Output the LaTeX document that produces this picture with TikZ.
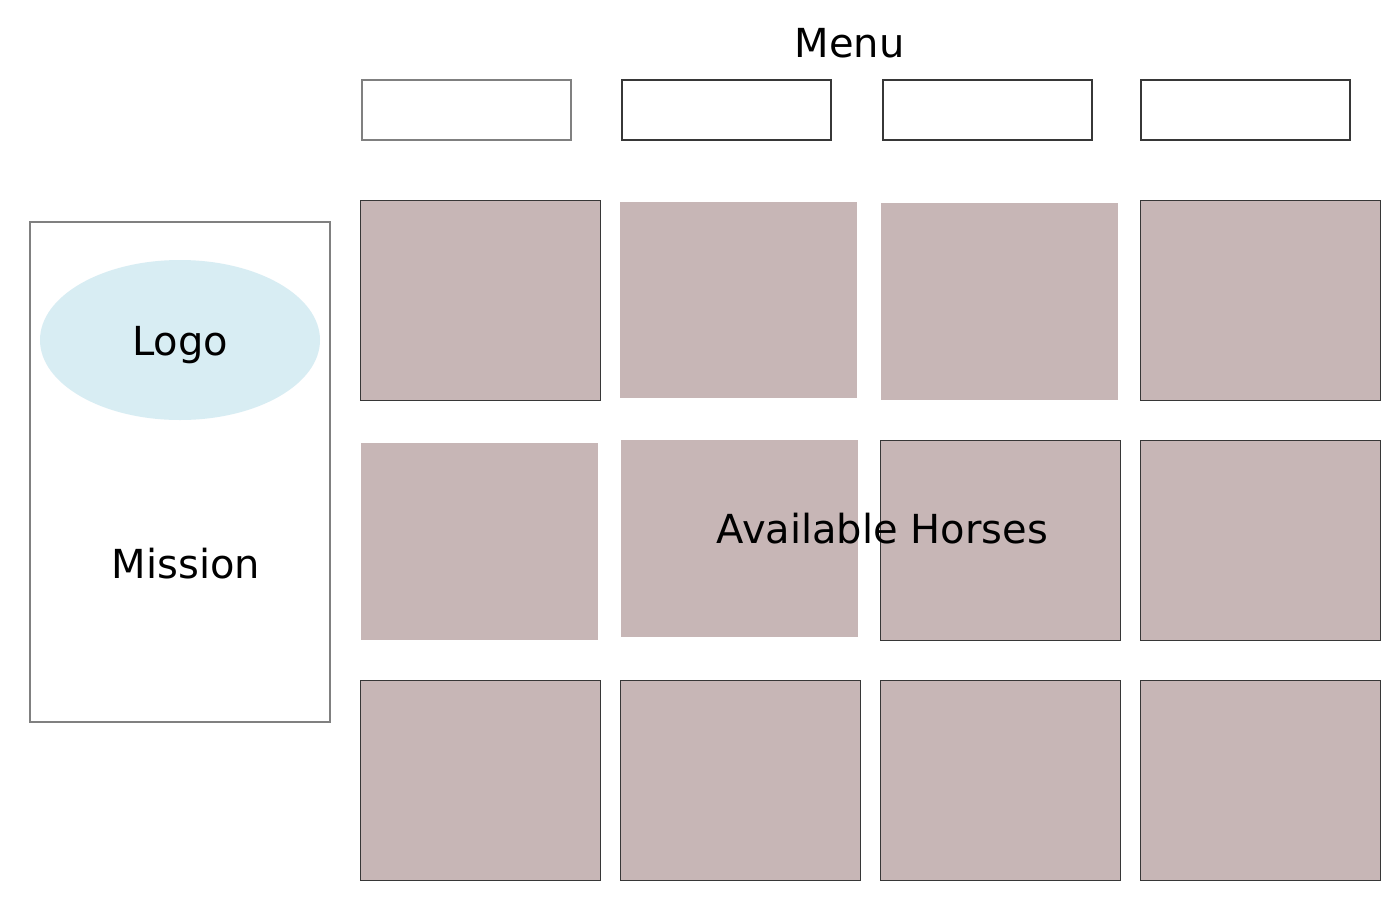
\documentclass[tikz,border=0pt]{standalone}
\usepackage{fontspec}
\setmainfont{DejaVu Sans}
\usetikzlibrary{shapes.geometric}
\definecolor{horse}{RGB}{199,182,182}
\definecolor{logoblue}{RGB}{216,237,243}
\definecolor{darkedge}{RGB}{55,55,55}
\definecolor{lightedge}{RGB}{128,128,128}
\tikzset{
  cell/.style={rectangle, fill=horse, inner sep=0pt, outer sep=0pt, minimum width=180pt, minimum height=150pt},
  edged/.style={draw=darkedge, line width=0.75pt},
  menubox/.style={rectangle, draw=darkedge, line width=0.8pt, fill=white, inner sep=0pt, minimum width=156.75pt, minimum height=45pt},
  bigtext/.style={font=\fontsize{30}{36}\selectfont, inner sep=0pt, anchor=base}
}
\begin{document}
\begin{tikzpicture}[x=0.75pt, y=-0.75pt]
\useasboundingbox[fill=white] (0,0) rectangle (1400,900);
% left panel
\node[rectangle, draw=lightedge, line width=0.8pt, inner sep=0pt, minimum width=225pt, minimum height=375pt] (panel) at (180,472) {};
\node[ellipse, fill=logoblue, inner sep=0pt, minimum width=210pt, minimum height=120pt] (logo) at (180,340) {};
\node[bigtext] (logotext) at (180,355) {Logo};
\node[bigtext] (mission) at (186,578) {Mission};
% menu
\node[bigtext] (menu) at (849.5,57.5) {Menu};
\node[menubox, draw=lightedge] (m1) at (466.5,110) {};
\node[menubox] (m2) at (726.5,110) {};
\node[menubox] (m3) at (987.5,110) {};
\node[menubox] (m4) at (1245.5,110) {};
% row 1
\node[cell, edged] (b11) at (480,300) {};
\node[cell, minimum width=177.75pt, minimum height=147pt] (b12) at (738.5,300) {};
\node[cell, minimum width=177.75pt, minimum height=147.75pt] (b13) at (999.5,301.5) {};
\node[cell, edged] (b14) at (1260,300) {};
% row 2
\node[cell, minimum width=177.75pt, minimum height=147.75pt] (b21) at (479.5,541.5) {};
\node[cell, minimum width=177.75pt, minimum height=147.75pt] (b22) at (739.5,538.5) {};
\node[cell, edged] (b23) at (1000,540) {};
\node[cell, edged] (b24) at (1260,540) {};
% row 3
\node[cell, edged] (b31) at (480,780) {};
\node[cell, edged] (b32) at (740,780) {};
\node[cell, edged] (b33) at (1000,780) {};
\node[cell, edged] (b34) at (1260,780) {};
\node[bigtext] (avail) at (882.5,543.5) {Available Horses};
\end{tikzpicture}
\end{document}
